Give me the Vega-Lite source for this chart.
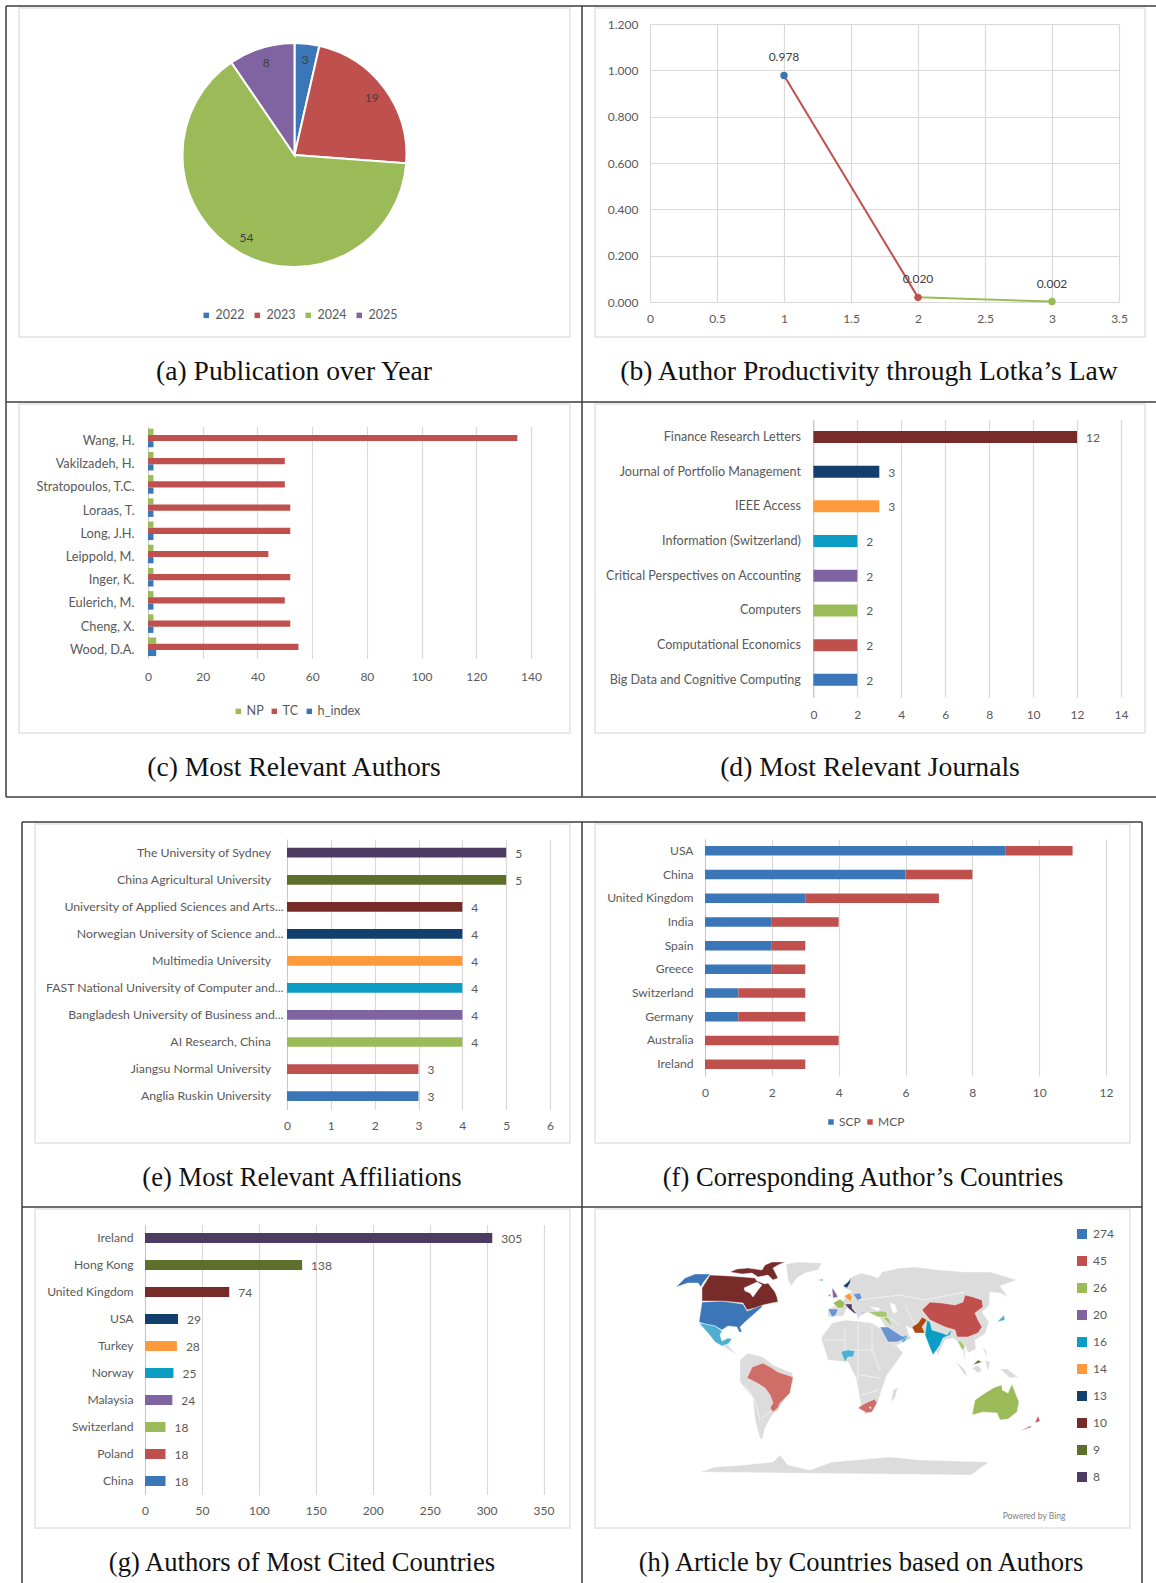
{"$schema":"https://vega.github.io/schema/vega-lite/v6.json","width":1156,"height":1583,"padding":0,"autosize":{"type":"none"},"background":"white",
"config":{"view":{"stroke":null},"font":"Lato","axis":{"labelFont":"Lato","labelFontSize":12,"labelColor":"#595959","gridColor":"#d9d9d9","gridWidth":1.2,"domainColor":"#c8c8c8","ticks":false,"labelOverlap":false,"labelFlush":false,"labelBound":false,"labelLimit":400,"title":null},"legend":{"labelFont":"Lato","labelFontSize":12,"labelColor":"#595959","symbolType":"square","symbolStrokeWidth":0,"title":null}},
"resolve":{"scale":{"x":"independent","y":"independent","color":"independent","theta":"independent","size":"independent"},"axis":{"x":"independent","y":"independent"},"legend":{"color":"independent"}},
"layer":[
{"encoding":{"x":{"field":"c0","type":"quantitative","scale":{"domain":[0,1,2,3,4,5,6,7,8,9,10],"range":[6,19,22,35,570,582,595,1130,1142,1145,1156]},"axis":null},"x2":{"field":"c1"},"y":{"field":"r0","type":"quantitative","scale":{"domain":[0,1,2,3,4,5,6,7,8,9,10,11,12,13],"range":[6,8,337,402,404,733,797,822,824,1143,1207,1209,1528,1583]},"axis":null},"y2":{"field":"r1"}},
"layer":[
{"data":{"values":[{"c0":1,"c1":4,"r0":1,"r1":2},{"c0":6,"c1":9,"r0":1,"r1":2},{"c0":1,"c1":4,"r0":4,"r1":5},{"c0":6,"c1":9,"r0":4,"r1":5},{"c0":3,"c1":4,"r0":8,"r1":9},{"c0":6,"c1":7,"r0":8,"r1":9},{"c0":3,"c1":4,"r0":11,"r1":12},{"c0":6,"c1":7,"r0":11,"r1":12}]},"mark":{"type":"rect","filled":false,"stroke":"#e2e2e2","strokeWidth":1.5}},
{"data":{"values":[{"c0":0,"c1":10,"r0":0,"r1":0},{"c0":0,"c1":10,"r0":3,"r1":3},{"c0":0,"c1":10,"r0":6,"r1":6},{"c0":2,"c1":8,"r0":7,"r1":7},{"c0":2,"c1":8,"r0":10,"r1":10},{"c0":0,"c1":0,"r0":0,"r1":6},{"c0":5,"c1":5,"r0":0,"r1":6},{"c0":2,"c1":2,"r0":7,"r1":13},{"c0":5,"c1":5,"r0":7,"r1":13},{"c0":8,"c1":8,"r0":7,"r1":13}]},"mark":{"type":"rule","color":"#3c3c3c","strokeWidth":1.5}}
]},
{"data":{"values":[{"panel":0,"caption":"(a) Publication over Year"},{"panel":1,"caption":"(b) Author Productivity through Lotka’s Law"},{"panel":2,"caption":"(c) Most Relevant Authors"},{"panel":3,"caption":"(d) Most Relevant Journals"},{"panel":4,"caption":"(e) Most Relevant Affiliations"},{"panel":5,"caption":"(f) Corresponding Author’s Countries"},{"panel":6,"caption":"(g) Authors of Most Cited Countries"},{"panel":7,"caption":"(h) Article by Countries based on Authors"}]},
"mark":{"type":"text","font":"Liberation Serif","color":"#111111","align":"center","baseline":"middle"},
"encoding":{"x":{"field":"panel","type":"quantitative","scale":{"domain":[0,1,2,3,4,5,6,7],"range":[294,869,294,870,302,863,302,861]},"axis":null},"y":{"field":"panel","type":"quantitative","scale":{"domain":[0,1,2,3,4,5,6,7],"range":[371.5,371.5,767.5,767.5,1177.5,1177.5,1562.5,1562.5]},"axis":null},"size":{"field":"panel","type":"quantitative","scale":{"domain":[0,3,4,7],"range":[27.6,27.6,26.6,26.6]},"legend":null},"text":{"field":"caption"}}},
{"data":{"values":[{"year":"2022","n":3},{"year":"2023","n":19},{"year":"2024","n":54},{"year":"2025","n":8}]},
"encoding":{"x":{"datum":0.5,"type":"quantitative","scale":{"domain":[0,1],"range":[183.5,405.5]},"axis":null},"y":{"datum":0.5,"type":"quantitative","scale":{"domain":[0,1],"range":[267,43]},"axis":null},"theta":{"field":"n","type":"quantitative","stack":true},"order":{"field":"year"}},
"layer":[
{"mark":{"type":"arc","radius":112,"stroke":"white","strokeWidth":2},"encoding":{"color":{"field":"year","type":"nominal","scale":{"domain":["2022","2023","2024","2025"],"range":["#3b76b9","#c0504d","#9bbb59","#8064a2"]},"legend":{"orient":"none","legendX":200,"legendY":309,"direction":"horizontal","symbolSize":30,"labelOffset":3,"columnPadding":6,"labelFontSize":12.5}}}},
{"mark":{"type":"text","radius":96,"fontSize":12,"font":"Lato","color":"#404040","align":"center","baseline":"middle"},"encoding":{"text":{"field":"n"}}}
]},
{"data":{"values":[{"authors":1,"freq":0.978,"nextAuthors":2,"nextFreq":0.020},{"authors":2,"freq":0.020,"nextAuthors":3,"nextFreq":0.002},{"authors":3,"freq":0.002}]},
"encoding":{"x":{"field":"authors","type":"quantitative","scale":{"domain":[0,3.5],"range":[650,1119]},"axis":{"orient":"top","offset":-302,"labelPadding":-11,"labelBaseline":"top","values":[0,0.5,1,1.5,2,2.5,3,3.5],"format":"~g","grid":true,"domain":false}},"y":{"field":"freq","type":"quantitative","scale":{"domain":[0,1.2],"range":[302,24]},"axis":{"orient":"left","offset":-650,"labelPadding":12,"values":[0,0.2,0.4,0.6,0.8,1,1.2],"format":".3f","grid":true,"domain":false}}},
"layer":[
{"transform":[{"filter":"isValid(datum.nextAuthors)"}],"mark":{"type":"rule","strokeWidth":2},"encoding":{"x2":{"field":"nextAuthors"},"y2":{"field":"nextFreq"},"color":{"field":"nextAuthors","type":"nominal","scale":{"domain":[1,2,3],"range":["#3b76b9","#c0504d","#9bbb59"]},"legend":null}}},
{"mark":{"type":"point","filled":true,"size":55,"opacity":1},"encoding":{"color":{"field":"authors","type":"nominal","scale":{"domain":[1,2,3],"range":["#3b76b9","#c0504d","#9bbb59"]},"legend":null}}},
{"mark":{"type":"text","dy":-18,"fontSize":12,"font":"Lato","color":"#404040"},"encoding":{"text":{"field":"freq","format":".3f"}}}
]},
{"data":{"values":[
{"author":"Wang, H.","measure":"NP","value":2},{"author":"Wang, H.","measure":"TC","value":135},{"author":"Wang, H.","measure":"h_index","value":2},
{"author":"Vakilzadeh, H.","measure":"NP","value":2},{"author":"Vakilzadeh, H.","measure":"TC","value":50},{"author":"Vakilzadeh, H.","measure":"h_index","value":2},
{"author":"Stratopoulos, T.C.","measure":"NP","value":2},{"author":"Stratopoulos, T.C.","measure":"TC","value":50},{"author":"Stratopoulos, T.C.","measure":"h_index","value":2},
{"author":"Loraas, T.","measure":"NP","value":2},{"author":"Loraas, T.","measure":"TC","value":52},{"author":"Loraas, T.","measure":"h_index","value":2},
{"author":"Long, J.H.","measure":"NP","value":2},{"author":"Long, J.H.","measure":"TC","value":52},{"author":"Long, J.H.","measure":"h_index","value":2},
{"author":"Leippold, M.","measure":"NP","value":2},{"author":"Leippold, M.","measure":"TC","value":44},{"author":"Leippold, M.","measure":"h_index","value":2},
{"author":"Inger, K.","measure":"NP","value":2},{"author":"Inger, K.","measure":"TC","value":52},{"author":"Inger, K.","measure":"h_index","value":2},
{"author":"Eulerich, M.","measure":"NP","value":2},{"author":"Eulerich, M.","measure":"TC","value":50},{"author":"Eulerich, M.","measure":"h_index","value":2},
{"author":"Cheng, X.","measure":"NP","value":2},{"author":"Cheng, X.","measure":"TC","value":52},{"author":"Cheng, X.","measure":"h_index","value":2},
{"author":"Wood, D.A.","measure":"NP","value":3},{"author":"Wood, D.A.","measure":"TC","value":55},{"author":"Wood, D.A.","measure":"h_index","value":3}]},
"mark":{"type":"bar"},
"encoding":{"x":{"field":"value","type":"quantitative","stack":null,"scale":{"domain":[0,140],"range":[148,531]},"axis":{"orient":"top","offset":-658.4,"labelPadding":-13,"labelBaseline":"top","values":[0,20,40,60,80,100,120,140],"grid":true,"domain":false}},
"y":{"field":"author","type":"nominal","sort":null,"scale":{"domain":["Wang, H.","Vakilzadeh, H.","Stratopoulos, T.C.","Loraas, T.","Long, J.H.","Leippold, M.","Inger, K.","Eulerich, M.","Cheng, X.","Wood, D.A."],"range":[426.4,658.4],"paddingInner":0.2,"paddingOuter":0.1},"axis":{"orient":"left","offset":-148,"labelPadding":14,"labelOffset":3,"labelFontSize":12.8,"domain":true}},
"yOffset":{"field":"measure","type":"nominal","sort":null,"scale":{"domain":["NP","TC","h_index"],"paddingInner":0}},
"color":{"field":"measure","type":"nominal","sort":null,"scale":{"domain":["NP","TC","h_index"],"range":["#9bbb59","#c0504d","#3b76b9"]},"legend":{"orient":"none","legendX":232,"legendY":705,"direction":"horizontal","symbolSize":30,"labelOffset":2,"columnPadding":4,"labelFontSize":12.6}}}},
{"data":{"values":[{"journal":"Finance Research Letters","articles":12},{"journal":"Journal of Portfolio Management","articles":3},{"journal":"IEEE Access","articles":3},{"journal":"Information (Switzerland)","articles":2},{"journal":"Critical Perspectives on Accounting","articles":2},{"journal":"Computers","articles":2},{"journal":"Computational Economics","articles":2},{"journal":"Big Data and Cognitive Computing","articles":2}]},
"encoding":{"x":{"field":"articles","type":"quantitative","scale":{"domain":[0,14],"range":[813.4,1121]},"axis":{"orient":"top","offset":-697.2,"labelPadding":-12,"labelBaseline":"top","values":[0,2,4,6,8,10,12,14],"grid":true,"domain":false}},
"y":{"field":"journal","type":"nominal","sort":null,"scale":{"domain":["Finance Research Letters","Journal of Portfolio Management","IEEE Access","Information (Switzerland)","Critical Perspectives on Accounting","Computers","Computational Economics","Big Data and Cognitive Computing"],"range":[419.6,697.2],"paddingInner":0.654,"paddingOuter":0.327},"axis":{"orient":"left","offset":-813.4,"labelPadding":13,"labelFontSize":12.6,"domain":true}}},
"layer":[
{"mark":{"type":"bar"},"encoding":{"color":{"field":"journal","type":"nominal","sort":null,"scale":{"domain":["Finance Research Letters","Journal of Portfolio Management","IEEE Access","Information (Switzerland)","Critical Perspectives on Accounting","Computers","Computational Economics","Big Data and Cognitive Computing"],"range":["#772c2a","#123f6e","#ff9a3c","#0b9dc4","#8064a2","#9bbb59","#c0504d","#3b76b9"]},"legend":null}}},
{"mark":{"type":"text","align":"left","dx":9,"dy":1,"fontSize":12,"font":"Lato","color":"#595959"},"encoding":{"text":{"field":"articles"}}}
]},
{"data":{"values":[{"org":"The University of Sydney","articles":5},{"org":"China Agricultural University","articles":5},{"org":"University of Applied Sciences and Arts...","articles":4},{"org":"Norwegian University of Science and...","articles":4},{"org":"Multimedia University","articles":4},{"org":"FAST National University of Computer and...","articles":4},{"org":"Bangladesh University of Business and...","articles":4},{"org":"AI Research, China","articles":4},{"org":"Jiangsu Normal University","articles":3},{"org":"Anglia Ruskin University","articles":3}]},
"encoding":{"x":{"field":"articles","type":"quantitative","scale":{"domain":[0,6],"range":[287,550]},"axis":{"orient":"top","offset":-1109.6,"labelPadding":-11,"labelBaseline":"top","values":[0,1,2,3,4,5,6],"grid":true,"domain":false}},
"y":{"field":"org","type":"nominal","sort":null,"scale":{"domain":["The University of Sydney","China Agricultural University","University of Applied Sciences and Arts...","Norwegian University of Science and...","Multimedia University","FAST National University of Computer and...","Bangladesh University of Business and...","AI Research, China","Jiangsu Normal University","Anglia Ruskin University"],"range":[839.2,1109.6],"paddingInner":0.64,"paddingOuter":0.32},"axis":{"orient":"left","offset":-287,"labelPadding":4,"labelFontSize":12.3,"domain":true,"labelExpr":"indexof(datum.label,'...')>=0 ? datum.label : datum.label + '\u00a0\u00a0\u00a0\u00a0\u200b'"}}},
"layer":[
{"mark":{"type":"bar"},"encoding":{"color":{"field":"org","type":"nominal","sort":null,"scale":{"domain":["The University of Sydney","China Agricultural University","University of Applied Sciences and Arts...","Norwegian University of Science and...","Multimedia University","FAST National University of Computer and...","Bangladesh University of Business and...","AI Research, China","Jiangsu Normal University","Anglia Ruskin University"],"range":["#4d3b62","#5e6e2b","#772c2a","#123f6e","#ff9a3c","#0b9dc4","#8064a2","#9bbb59","#c0504d","#3b76b9"]},"legend":null}}},
{"mark":{"type":"text","align":"left","dx":9,"dy":1,"fontSize":12,"font":"Lato","color":"#595959"},"encoding":{"text":{"field":"articles"}}}
]},
{"data":{"values":[{"country":"USA","kind":"SCP","rank":1,"n":9},{"country":"USA","kind":"MCP","rank":2,"n":2},{"country":"China","kind":"SCP","rank":1,"n":6},{"country":"China","kind":"MCP","rank":2,"n":2},{"country":"United Kingdom","kind":"SCP","rank":1,"n":3},{"country":"United Kingdom","kind":"MCP","rank":2,"n":4},{"country":"India","kind":"SCP","rank":1,"n":2},{"country":"India","kind":"MCP","rank":2,"n":2},{"country":"Spain","kind":"SCP","rank":1,"n":2},{"country":"Spain","kind":"MCP","rank":2,"n":1},{"country":"Greece","kind":"SCP","rank":1,"n":2},{"country":"Greece","kind":"MCP","rank":2,"n":1},{"country":"Switzerland","kind":"SCP","rank":1,"n":1},{"country":"Switzerland","kind":"MCP","rank":2,"n":2},{"country":"Germany","kind":"SCP","rank":1,"n":1},{"country":"Germany","kind":"MCP","rank":2,"n":2},{"country":"Australia","kind":"MCP","rank":2,"n":4},{"country":"Ireland","kind":"MCP","rank":2,"n":3}]},
"mark":{"type":"bar"},
"encoding":{"x":{"field":"n","type":"quantitative","stack":"zero","scale":{"domain":[0,12],"range":[705,1106]},"axis":{"orient":"top","offset":-1076,"labelPadding":-11,"labelBaseline":"top","values":[0,2,4,6,8,10,12],"grid":true,"domain":false}},
"y":{"field":"country","type":"nominal","sort":null,"scale":{"domain":["USA","China","United Kingdom","India","Spain","Greece","Switzerland","Germany","Australia","Ireland"],"range":[839,1076],"paddingInner":0.6,"paddingOuter":0.3},"axis":{"orient":"left","offset":-705,"labelPadding":12,"labelFontSize":12.1,"domain":true}},
"order":{"field":"rank"},
"color":{"field":"kind","type":"nominal","sort":null,"scale":{"domain":["SCP","MCP"],"range":["#3b76b9","#c0504d"]},"legend":{"orient":"none","legendX":825,"legendY":1116,"direction":"horizontal","symbolSize":30,"labelOffset":2,"columnPadding":3}}}},
{"data":{"values":[{"country":"Ireland","citations":305},{"country":"Hong Kong","citations":138},{"country":"United Kingdom","citations":74},{"country":"USA","citations":29},{"country":"Turkey","citations":28},{"country":"Norway","citations":25},{"country":"Malaysia","citations":24},{"country":"Switzerland","citations":18},{"country":"Poland","citations":18},{"country":"China","citations":18}]},
"encoding":{"x":{"field":"citations","type":"quantitative","scale":{"domain":[0,350],"range":[145,543.5]},"axis":{"orient":"top","offset":-1494.5,"labelPadding":-11,"labelBaseline":"top","values":[0,50,100,150,200,250,300,350],"grid":true,"domain":false}},
"y":{"field":"country","type":"nominal","sort":null,"scale":{"domain":["Ireland","Hong Kong","United Kingdom","USA","Turkey","Norway","Malaysia","Switzerland","Poland","China"],"range":[1224.5,1494.5],"paddingInner":0.63,"paddingOuter":0.315},"axis":{"orient":"left","offset":-145,"labelPadding":12,"labelFontSize":12.1,"domain":true}}},
"layer":[
{"mark":{"type":"bar"},"encoding":{"color":{"field":"country","type":"nominal","sort":null,"scale":{"domain":["Ireland","Hong Kong","United Kingdom","USA","Turkey","Norway","Malaysia","Switzerland","Poland","China"],"range":["#4d3b62","#5e6e2b","#772c2a","#123f6e","#ff9a3c","#0b9dc4","#8064a2","#9bbb59","#c0504d","#3b76b9"]},"legend":null}}},
{"mark":{"type":"text","align":"left","dx":9,"dy":1,"fontSize":12,"font":"Lato","color":"#595959"},"encoding":{"text":{"field":"citations"}}}
]},
{"layer":[
{"data":{"values":[
{"type":"Feature","properties":{"cat":"0"},"geometry":{"type":"Polygon","coordinates":[[[786,1264],[798,1262],[822,1263],[818,1270],[805,1273],[797,1278],[791,1286],[788,1280],[789,1272]]]}},
{"type":"Feature","properties":{"cat":"0"},"geometry":{"type":"Polygon","coordinates":[[[723,1346],[728,1344],[732,1350],[737,1355],[740,1357],[733,1353]]]}},
{"type":"Feature","properties":{"cat":"0"},"geometry":{"type":"Polygon","coordinates":[[[735,1338],[745,1341],[740,1341]]]}},
{"type":"Feature","properties":{"cat":"0"},"geometry":{"type":"Polygon","coordinates":[[[740,1360],[748,1353],[763,1357],[773,1365],[792,1373],[794,1380],[788,1395],[778,1410],[772,1415],[765,1428],[762,1440],[765,1443],[760,1438],[755,1420],[753,1398],[740,1382],[738,1372]]]}},
{"type":"Feature","properties":{"cat":"0"},"geometry":{"type":"Polygon","coordinates":[[[821,1338],[832,1323],[846,1320],[872,1323],[883,1330],[894,1343],[903,1353],[887,1375],[881,1392],[878,1402],[865,1415],[861,1405],[856,1378],[848,1362],[828,1360],[820,1348]]]}},
{"type":"Feature","properties":{"cat":"0"},"geometry":{"type":"Polygon","coordinates":[[[893,1390],[898,1387],[895,1398],[891,1402],[890,1397]]]}},
{"type":"Feature","properties":{"cat":"0"},"geometry":{"type":"Polygon","coordinates":[[[828,1317],[828,1309],[842,1303],[846,1296],[852,1291],[843,1288],[850,1278],[860,1273],[870,1275],[878,1278],[882,1272],[900,1268],[915,1267],[940,1270],[965,1272],[990,1272],[1017,1280],[1000,1286],[1008,1297],[1000,1293],[990,1292],[989,1306],[982,1312],[989,1322],[985,1334],[975,1340],[976,1349],[968,1353],[965,1345],[965,1362],[962,1345],[953,1338],[945,1340],[938,1355],[931,1340],[925,1333],[915,1330],[906,1326],[909,1335],[912,1338],[895,1346],[884,1325],[880,1318],[874,1312],[866,1313],[860,1316],[858,1320],[855,1310],[848,1306],[843,1316],[835,1318]]]}},
{"type":"Feature","properties":{"cat":"0"},"geometry":{"type":"Polygon","coordinates":[[[955,1360],[965,1370],[968,1377],[963,1373],[957,1365]]]}},
{"type":"Feature","properties":{"cat":"0"},"geometry":{"type":"Polygon","coordinates":[[[972,1368],[978,1365],[982,1370],[978,1373],[973,1372]]]}},
{"type":"Feature","properties":{"cat":"0"},"geometry":{"type":"Polygon","coordinates":[[[965,1376],[978,1378],[967,1379]]]}},
{"type":"Feature","properties":{"cat":"0"},"geometry":{"type":"Polygon","coordinates":[[[982,1347],[986,1350],[987,1357],[984,1357]]]}},
{"type":"Feature","properties":{"cat":"0"},"geometry":{"type":"Polygon","coordinates":[[[985,1360],[990,1362],[988,1372],[985,1368]]]}},
{"type":"Feature","properties":{"cat":"0"},"geometry":{"type":"Polygon","coordinates":[[[1000,1369],[1007,1369],[1018,1377],[1010,1378],[1005,1375]]]}},
{"type":"Feature","properties":{"cat":"0"},"geometry":{"type":"Polygon","coordinates":[[[700,1472],[715,1467],[744,1465],[773,1462],[780,1455],[788,1465],[810,1470],[832,1462],[890,1457],[920,1460],[989,1462],[975,1472],[971,1475],[707,1475]]]}},
{"type":"Feature","properties":{"cat":"sea"},"geometry":{"type":"Polygon","coordinates":[[[890,1303],[895,1305],[897,1312],[893,1313],[890,1308]]]}},
{"type":"Feature","properties":{"cat":"sea"},"geometry":{"type":"Polygon","coordinates":[[[870,1307],[880,1308],[878,1311],[872,1311]]]}},
{"type":"Feature","properties":{"cat":"274"},"geometry":{"type":"Polygon","coordinates":[[[676,1287],[685,1278],[695,1274],[710,1274],[703,1283],[701,1287],[698,1283],[688,1283],[680,1288]]]}},
{"type":"Feature","properties":{"cat":"274"},"geometry":{"type":"Polygon","coordinates":[[[702,1302],[722,1301],[743,1304],[747,1311],[755,1308],[763,1303],[762,1307],[753,1315],[745,1322],[740,1327],[742,1332],[739,1332],[737,1327],[728,1326],[722,1330],[715,1326],[705,1324],[699,1322],[697,1315]]]}},
{"type":"Feature","properties":{"cat":"10"},"geometry":{"type":"Polygon","coordinates":[[[710,1275],[730,1276],[743,1277],[755,1278],[757,1281],[765,1284],[768,1283],[775,1292],[777,1297],[778,1302],[772,1303],[763,1305],[755,1308],[747,1310],[743,1303],[722,1301],[702,1301],[702,1288],[703,1283]],[[744,1288],[745,1291],[750,1293],[753,1297],[758,1290],[762,1285],[757,1282],[748,1283]]]}},
{"type":"Feature","properties":{"cat":"10"},"geometry":{"type":"Polygon","coordinates":[[[730,1272],[737,1269],[748,1268],[762,1270],[765,1265],[772,1262],[785,1262],[778,1265],[773,1268],[778,1278],[773,1280],[768,1275],[758,1277],[752,1273],[742,1274],[732,1273]]]}},
{"type":"Feature","properties":{"cat":"3"},"geometry":{"type":"Polygon","coordinates":[[[699,1323],[705,1324],[715,1326],[722,1331],[720,1335],[722,1341],[728,1338],[732,1339],[728,1344],[722,1346],[715,1342],[708,1333],[703,1327]]]}},
{"type":"Feature","properties":{"cat":"3"},"geometry":{"type":"Polygon","coordinates":[[[817,1280],[823,1279],[823,1281],[818,1282]]]}},
{"type":"Feature","properties":{"cat":"3"},"geometry":{"type":"Polygon","coordinates":[[[841,1352],[848,1349],[855,1351],[853,1357],[848,1357],[845,1362],[842,1357]]]}},
{"type":"Feature","properties":{"cat":"3"},"geometry":{"type":"Polygon","coordinates":[[[900,1337],[906,1335],[908,1338],[903,1343],[900,1342]]]}},
{"type":"Feature","properties":{"cat":"5"},"geometry":{"type":"Polygon","coordinates":[[[747,1378],[752,1367],[763,1363],[772,1368],[778,1372],[793,1377],[790,1393],[780,1403],[778,1408],[773,1412],[770,1408],[773,1403],[770,1395],[765,1388],[757,1383],[750,1382]]]}},
{"type":"Feature","properties":{"cat":"5"},"geometry":{"type":"Polygon","coordinates":[[[858,1408],[862,1405],[868,1402],[875,1399],[877,1403],[872,1412],[867,1413],[860,1415]]]}},
{"type":"Feature","properties":{"cat":"sea"},"geometry":{"type":"Polygon","coordinates":[[[869,1407],[871,1407],[871,1409],[869,1409]]]}},
{"type":"Feature","properties":{"cat":"45"},"geometry":{"type":"Polygon","coordinates":[[[922,1310],[930,1302],[942,1303],[955,1305],[963,1302],[965,1295],[973,1297],[982,1300],[983,1307],[975,1313],[978,1320],[982,1327],[978,1333],[968,1337],[957,1337],[955,1330],[945,1327],[930,1320],[923,1317]]]}},
{"type":"Feature","properties":{"cat":"45"},"geometry":{"type":"Polygon","coordinates":[[[1020,1431],[1030,1426],[1032,1427],[1023,1432]]]}},
{"type":"Feature","properties":{"cat":"45"},"geometry":{"type":"Polygon","coordinates":[[[1035,1423],[1038,1416],[1040,1421],[1037,1423]]]}},
{"type":"Feature","properties":{"cat":"7"},"geometry":{"type":"Polygon","coordinates":[[[912,1327],[918,1323],[922,1317],[927,1320],[922,1327],[925,1333],[915,1333],[912,1332]]]}},
{"type":"Feature","properties":{"cat":"7"},"geometry":{"type":"Polygon","coordinates":[[[989,1315],[993,1318],[990,1320]]]}},
{"type":"Feature","properties":{"cat":"16"},"geometry":{"type":"Polygon","coordinates":[[[927,1320],[930,1322],[932,1330],[942,1333],[947,1335],[952,1329],[950,1335],[943,1338],[940,1345],[933,1355],[930,1348],[925,1335],[922,1327]]]}},
{"type":"Feature","properties":{"cat":"3"},"geometry":{"type":"Polygon","coordinates":[[[997,1322],[1004,1315],[1005,1320],[998,1324]]]}},
{"type":"Feature","properties":{"cat":"3"},"geometry":{"type":"Polygon","coordinates":[[[1001,1307],[1003,1307],[1003,1311]]]}},
{"type":"Feature","properties":{"cat":"4"},"geometry":{"type":"Polygon","coordinates":[[[957,1340],[962,1342],[965,1347],[962,1350],[958,1348]]]}},
{"type":"Feature","properties":{"cat":"4"},"geometry":{"type":"Polygon","coordinates":[[[868,1312],[882,1311],[887,1312],[887,1317],[878,1317],[870,1317]]]}},
{"type":"Feature","properties":{"cat":"4"},"geometry":{"type":"Polygon","coordinates":[[[883,1318],[888,1317],[893,1327],[888,1327]]]}},
{"type":"Feature","properties":{"cat":"6"},"geometry":{"type":"Polygon","coordinates":[[[880,1327],[888,1327],[900,1335],[907,1338],[897,1342],[888,1342],[885,1335]]]}},
{"type":"Feature","properties":{"cat":"6"},"geometry":{"type":"Polygon","coordinates":[[[828,1309],[838,1309],[836,1315],[832,1317],[829,1317]]]}},
{"type":"Feature","properties":{"cat":"6"},"geometry":{"type":"Polygon","coordinates":[[[853,1294],[860,1293],[862,1298],[858,1301],[854,1299]]]}},
{"type":"Feature","properties":{"cat":"6"},"geometry":{"type":"Polygon","coordinates":[[[828,1295],[831,1294],[830,1297],[828,1297]]]}},
{"type":"Feature","properties":{"cat":"6"},"geometry":{"type":"Polygon","coordinates":[[[861,1312],[863,1312],[864,1315],[862,1316]]]}},
{"type":"Feature","properties":{"cat":"26"},"geometry":{"type":"Polygon","coordinates":[[[833,1303],[840,1299],[845,1303],[843,1308],[838,1308],[834,1307]]]}},
{"type":"Feature","properties":{"cat":"26"},"geometry":{"type":"Polygon","coordinates":[[[972,1415],[975,1400],[985,1393],[995,1387],[1002,1385],[1002,1390],[1008,1393],[1012,1384],[1015,1392],[1019,1402],[1017,1412],[1008,1419],[1000,1420],[997,1413],[983,1412],[975,1415]]]}},
{"type":"Feature","properties":{"cat":"26"},"geometry":{"type":"Polygon","coordinates":[[[1000,1425],[1003,1424],[1002,1427]]]}},
{"type":"Feature","properties":{"cat":"20"},"geometry":{"type":"Polygon","coordinates":[[[832,1288],[834,1290],[838,1297],[833,1298],[836,1293]]]}},
{"type":"Feature","properties":{"cat":"14"},"geometry":{"type":"Polygon","coordinates":[[[844,1296],[850,1293],[852,1297],[851,1302],[846,1302]]]}},
{"type":"Feature","properties":{"cat":"13"},"geometry":{"type":"Polygon","coordinates":[[[843,1286],[848,1282],[851,1278],[850,1283],[847,1288],[843,1288]]]}},
{"type":"Feature","properties":{"cat":"13"},"geometry":{"type":"Polygon","coordinates":[[[857,1274],[860,1274],[859,1276]]]}},
{"type":"Feature","properties":{"cat":"9"},"geometry":{"type":"Polygon","coordinates":[[[960,1359],[965,1363],[962,1365]]]}},
{"type":"Feature","properties":{"cat":"9"},"geometry":{"type":"Polygon","coordinates":[[[973,1365],[978,1360],[982,1362],[977,1366]]]}},
{"type":"Feature","properties":{"cat":"8"},"geometry":{"type":"Polygon","coordinates":[[[845,1304],[852,1304],[852,1308],[857,1314],[854,1313],[848,1308],[846,1307]]]}}
]},
"mark":{"type":"geoshape","stroke":"white","strokeWidth":0.4},"projection":{"type":"identity","scale":1,"translate":[0,0]},
"encoding":{"color":{"field":"properties.cat","type":"nominal","sort":null,"scale":{"domain":["274","45","26","20","16","14","13","10","9","8","7","6","5","4","3","0","sea"],"range":["#3b76b9","#c0504d","#9bbb59","#8064a2","#0b9dc4","#ff9a3c","#123f6e","#772c2a","#5e6e2b","#4d3b62","#ab4a0f","#6a94cf","#cf6e66","#a8c56f","#4db0d3","#dcdcdc","#ffffff"]},"legend":{"orient":"none","legendX":1076,"legendY":1228,"values":["274","45","26","20","16","14","13","10","9","8"],"symbolSize":100,"labelOffset":5,"rowPadding":15,"labelFontSize":12}}}},
{"data":{"values":[
{"type":"Feature","properties":{"name":"borders"},"geometry":{"type":"MultiLineString","coordinates":[[[825,1340],[845,1340]],[[845,1328],[845,1350]],[[858,1323],[858,1348]],[[872,1325],[872,1350]],[[845,1350],[872,1350]],[[858,1350],[858,1380]],[[872,1350],[880,1370]],[[860,1375],[880,1378]],[[862,1395],[878,1390]],[[858,1300],[900,1295],[925,1300],[965,1292]],[[890,1318],[900,1325]],[[905,1305],[915,1325]],[[745,1385],[755,1400],[760,1420]],[[770,1412],[762,1418]]]}}
]},"mark":{"type":"geoshape","filled":false,"stroke":"white","strokeWidth":0.6},"projection":{"type":"identity","scale":1,"translate":[0,0]}},
{"data":{"values":[{"credit":"Powered by Bing"}]},"mark":{"type":"text","font":"Lato","fontSize":8.5,"color":"#808080","align":"center","baseline":"middle"},"encoding":{"text":{"field":"credit"},"x":{"datum":0.5,"type":"quantitative","scale":{"domain":[0,1],"range":[1000,1068]},"axis":null},"y":{"datum":0.5,"type":"quantitative","scale":{"domain":[0,1],"range":[1526,1506]},"axis":null}}}
]}
]}
